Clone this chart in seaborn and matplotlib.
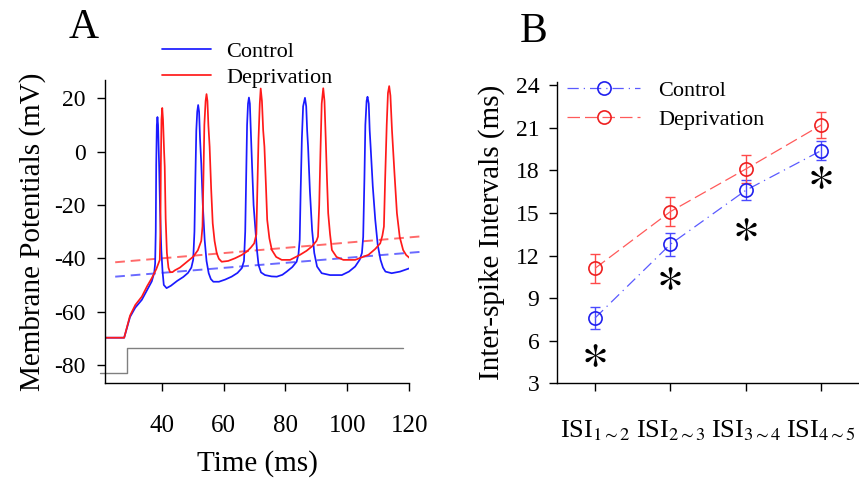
import matplotlib
matplotlib.use('Agg')
import numpy as np
import pandas as pd
import matplotlib.pyplot as plt
import seaborn as sns

# Panel A: membrane potential traces (time in ms, potential in mV)
ctrl_t = [21.7, 27.9, 29.8, 31.5, 33.6, 35.5, 36.8, 37.6, 37.9, 38.1, 38.25, 38.45, 38.65, 38.85,
          39.2, 39.5, 39.9, 40.3, 40.7, 41.6, 43.0, 45.0, 47.0, 48.5, 49.6, 50.2, 50.6, 50.9,
          51.2, 51.5, 51.8, 52.1, 52.4, 52.8, 53.3, 53.9, 54.5, 55.2, 55.9, 56.7, 58.5, 60.5,
          62.6, 64.5, 65.9, 66.6, 67.0, 67.3, 67.6, 67.9, 68.2, 68.5, 68.8, 69.2, 69.7, 70.3,
          70.8, 71.3, 72.1, 73.4, 75.5, 77.2, 79.0, 80.4, 82.2, 83.6, 84.2, 84.6, 84.9, 85.3,
          85.7, 86.3, 86.7, 87.0, 87.3, 87.9, 88.6, 89.3, 90.2, 91.7, 94.4, 98.2, 100.5, 102.5,
          104.0, 104.7, 105.1, 105.5, 105.8, 106.2, 106.5, 106.9, 107.2, 107.5, 108.2, 109.0,
          109.8, 110.7, 111.5, 112.3, 114.3, 117.0, 120.2]
ctrl_v = [-69.8, -69.8, -62, -58.5, -55.6, -51.5, -48.7, -45.5, -42, -30, -5, 10, 13, 10,
          -5.6, -22, -37, -45, -50, -51.2, -50.3, -48.5, -47, -45.5, -43.5, -40.5, -30, -10,
          8, 15, 17.5, 15, 5, -4.4, -20, -33.1, -41, -45.6, -47.8, -48.8, -48.8, -48.0,
          -46.9, -45.5, -43.7, -41, -30, -10, 10, 18, 20.3, 18, 8, -5, -20, -29.4,
          -37, -42.5, -45.3, -46.3, -46.8, -46.9, -46.2, -45, -43.3, -41.3, -38.5, -33, -15, 5,
          17, 20.2, 17, 8, 1.9, -15, -29.4, -38, -43.1, -45.6, -46.3, -46.3, -45, -43.1,
          -40.5, -38, -32, -10, 10, 19, 20.6, 18, 8, 1.9, -13, -25.6,
          -35, -40.6, -43.5, -45, -45.6, -45, -43.7]

depr_t = [21.7, 27.9, 29.8, 31.5, 33.6, 35.3, 36.8, 38.3, 39.4, 39.6, 39.75, 39.95, 40.2, 40.45,
          40.8, 41.0, 41.3, 41.7, 42.2, 42.7, 43.5, 44.3, 45.9, 48.0, 50.2, 51.7, 52.8, 53.2,
          53.5, 53.8, 54.2, 54.5, 54.8, 55.1, 55.5, 56.0, 56.5, 57.1, 57.8, 58.5, 59.4, 61.5,
          63.7, 65.8, 67.5, 68.8, 69.9, 70.6, 70.9, 71.3, 71.7, 72.0, 72.4, 72.8, 73.2, 73.7,
          74.1, 74.8, 75.6, 77.0, 78.8, 81.5, 84.7, 86.8, 88.5, 90.0, 90.5, 90.9, 91.3, 91.7,
          92.2, 92.6, 93.0, 93.4, 93.8, 94.4, 95.0, 96.5, 98.7, 102.5, 106.8, 109.0, 110.6,
          111.3, 111.8, 112.2, 112.7, 113.1, 113.5, 113.9, 114.4, 115.2, 116.0, 116.9, 118.0,
          119.0, 120.2]
depr_v = [-69.8, -69.8, -61.5, -57.5, -54.4, -50.5, -47.5, -44, -40.6, -30, -5, 12, 16.4, 12,
          0, -5.6, -25, -38, -43.5, -45.2, -45.2, -44.5, -43.5, -41.5, -39.4, -37, -33.5, -28,
          -10, 10, 19, 21.6, 19, 10, 1.9, -14, -26.9, -33.5, -38.1, -40.2, -41.3, -41,
          -40, -38.8, -37.5, -36, -34.4, -31, -15, 5, 18, 23.7, 19, 8, 1.9, -13,
          -25.6, -32.5, -36.9, -39.5, -40.6, -40.6, -38.7, -37.2, -35.6, -33.5, -31.9, -20, 0, 18,
          23.8, 19, 5, -10, -23.1, -31, -36.9, -39.5, -40.6, -40.6, -38.7, -36.5, -34.4,
          -31.5, -28.1, -10, 10, 22, 24.6, 21, 8.1, -8, -23.1, -32, -36.9,
          -38.8, -40]

# threshold trend lines (dashed)
ctrl_fit_t = [25.0, 123.6]
ctrl_fit_v = [-46.9, -37.6]
depr_fit_t = [25.0, 123.6]
depr_fit_v = [-41.5, -31.8]

# current step (grey)
stim_t = [20.1, 28.8, 28.8, 118.0]
stim_v = [-83.0, -83.0, -73.6, -73.6]

# Panel B: inter-spike intervals
isi_labels = [r'ISI$_{1\sim2}$', r'ISI$_{2\sim3}$', r'ISI$_{3\sim4}$', r'ISI$_{4\sim5}$']
isi_pos = [1, 2, 3, 4]
ctrl_isi = [7.6, 12.8, 16.6, 19.4]
ctrl_err = [0.75, 0.8, 0.7, 0.65]
depr_isi = [11.1, 15.1, 18.1, 21.2]
depr_err = [1.0, 1.0, 1.0, 0.95]
star_y = [5.0, 10.4, 13.9, 17.5]

sns.set_style('ticks')
plt.rcParams['font.family'] = ['Liberation Serif', 'DejaVu Serif']
plt.rcParams['mathtext.fontset'] = 'stix'
plt.rcParams['axes.unicode_minus'] = False
for k in ('text.color', 'axes.labelcolor', 'xtick.color', 'ytick.color', 'axes.edgecolor'):
    plt.rcParams[k] = 'black'

BLUE = '#1a1aff'
RED = '#ff1a1a'

fig = plt.figure(figsize=(8.59, 4.82), dpi=100)
ax1 = fig.add_axes([0.1222, 0.2048, 0.3543, 0.6293])
ax2 = fig.add_axes([0.6488, 0.2048, 0.3512, 0.6257])

# ---- A ----
sns.lineplot(x=stim_t, y=stim_v, sort=False, estimator=None, color='#808080', lw=1.0,
             ax=ax1, clip_on=False)
sns.lineplot(x=ctrl_fit_t, y=ctrl_fit_v, sort=False, estimator=None, color='#6a6aff',
             lw=1.4, linestyle=(0, (5, 3)), ax=ax1, clip_on=False)
sns.lineplot(x=depr_fit_t, y=depr_fit_v, sort=False, estimator=None, color='#ff6a6a',
             lw=1.4, linestyle=(0, (5, 3)), ax=ax1, clip_on=False)
sns.lineplot(x=ctrl_t, y=ctrl_v, sort=False, estimator=None, color=BLUE, lw=1.25,
             ax=ax1, label='Control')
sns.lineplot(x=depr_t, y=depr_v, sort=False, estimator=None, color=RED, lw=1.25,
             ax=ax1, label='Deprivation')

ax1.set_xlim(21.7, 120)
ax1.set_ylim(-86.9, 26.9)
ax1.set_xticks([40, 60, 80, 100, 120])
ax1.set_yticks([-80, -60, -40, -20, 0, 20])
ax1.set_xlabel('Time (ms)', fontsize=21, labelpad=9)
ax1.set_ylabel('Membrane Potentials (mV)', fontsize=21, labelpad=6)
ax1.tick_params(axis='x', labelsize=18, length=6, width=1, pad=17)
ax1.tick_params(axis='y', labelsize=17, length=6, width=1, pad=8)
h, l = ax1.get_legend_handles_labels()
ax1.legend(h, l, loc='upper left', bbox_to_anchor=(162 / 859, 1 - 41 / 482),
           bbox_transform=fig.transFigure, frameon=False, fontsize=16,
           handlelength=2.2, handletextpad=0.7, labelspacing=0.25, borderpad=0, borderaxespad=0)

# ---- B ----
ax2.errorbar(isi_pos, ctrl_isi, yerr=ctrl_err, fmt='none', ecolor='#4a4aff', elinewidth=1.0,
             capsize=3.5, capthick=1.0)
ax2.errorbar(isi_pos, depr_isi, yerr=depr_err, fmt='none', ecolor='#ff4a4a', elinewidth=1.0,
             capsize=3.5, capthick=1.0)
sns.lineplot(x=isi_pos, y=ctrl_isi, color='#5a5aff', lw=0.9, linestyle=(0, (9, 4, 1, 4)),
             marker='o', markersize=9.5, markerfacecolor='none', markeredgecolor='#2020ee',
             markeredgewidth=1.2, ax=ax2, label='Control')
sns.lineplot(x=isi_pos, y=depr_isi, color='#ff5a5a', lw=0.9, linestyle=(0, (10, 4)),
             marker='o', markersize=9.5, markerfacecolor='none', markeredgecolor='#ee2020',
             markeredgewidth=1.2, ax=ax2, label='Deprivation')
sns.scatterplot(x=isi_pos, y=star_y, marker=r'$\ast$', s=270, color='black', linewidth=0,
                ax=ax2, legend=False)

ax2.set_xlim(0.5, 4.5)
ax2.set_ylim(3, 24.25)
ax2.set_xticks(isi_pos)
ax2.set_xticklabels(isi_labels)
ax2.set_yticks([3, 6, 9, 12, 15, 18, 21, 24])
ax2.set_ylabel('Inter-spike Intervals (ms)', fontsize=21, labelpad=8)
ax2.tick_params(axis='x', labelsize=19, length=6, width=1, pad=19)
ax2.tick_params(axis='y', labelsize=17, length=6, width=1, pad=7)
h, l = ax2.get_legend_handles_labels()
ax2.legend(h, l, loc='upper left', bbox_to_anchor=(567 / 859, 1 - 80 / 482),
           bbox_transform=fig.transFigure, frameon=False, fontsize=16,
           handlelength=3.3, handletextpad=0.8, labelspacing=0.38, borderpad=0, borderaxespad=0)

for ax in (ax1, ax2):
    sns.despine(ax=ax)
    for s in ('left', 'bottom'):
        ax.spines[s].set_linewidth(1.0)
        ax.spines[s].set_color('black')

fig.text(84 / 859, 1 - 28 / 482, 'A', fontsize=30, ha='center', va='center')
fig.text(534 / 859, 1 - 32 / 482, 'B', fontsize=30, ha='center', va='center')

fig.savefig('out.png', dpi=100)
